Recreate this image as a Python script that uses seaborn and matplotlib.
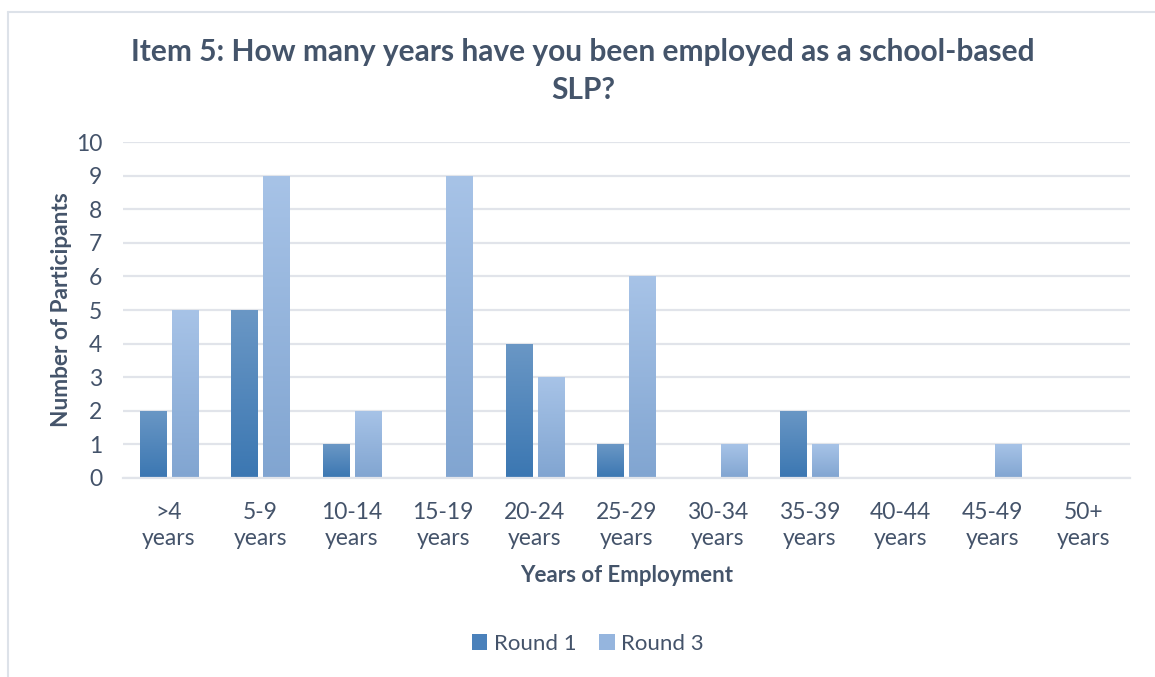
import numpy as np
import pandas as pd
import matplotlib
matplotlib.use("Agg")
import matplotlib.pyplot as plt
from matplotlib.lines import Line2D
from matplotlib.patches import Patch
import seaborn as sns

# Survey responses by years of employment
categories = [">4\nyears", "5-9\nyears", "10-14\nyears", "15-19\nyears", "20-24\nyears",
              "25-29\nyears", "30-34\nyears", "35-39\nyears", "40-44\nyears", "45-49\nyears",
              "50+\nyears"]
round1 = [2, 5, 1, 0, 4, 1, 0, 2, 0, 0, 0]
round3 = [5, 9, 2, 9, 3, 6, 1, 1, 0, 1, 0]
series_names = ["Round 1", "Round 3"]

df = pd.DataFrame({
    "category": categories * 2,
    "count": round1 + round3,
    "series": [series_names[0]] * len(categories) + [series_names[1]] * len(categories),
})

TEXT = "#44546a"
TICK = "#44536a"
GRID = "#e1e4ea"
# (top, bottom) gradient colours per series
grad = {
    "Round 1": ("#6a97c5", "#3b77b2"),
    "Round 3": ("#a7c3e7", "#81a5d1"),
}
flat = {"Round 1": "#4a81bb", "Round 3": "#95b5de"}

sns.set_theme(style="white")
plt.rcParams["font.family"] = ["Lato", "DejaVu Sans"]

fig = plt.figure(figsize=(11.55, 6.77), dpi=100)
ax = fig.add_axes([0.1065, 0.294, 0.8715, 0.496])

sns.barplot(data=df, x="category", y="count", hue="series", order=categories,
            hue_order=series_names, palette=flat, width=0.7, gap=0.18,
            legend=False, ax=ax)

# Replace flat fills with a vertical gradient per bar
ax.set_ylim(0, 10)
n = len(categories)
for i, p in enumerate(ax.patches):
    s = series_names[i // n]
    x0, y0 = p.get_x(), p.get_y()
    w, h = p.get_width(), p.get_height()
    if h <= 0:
        continue
    top, bot = matplotlib.colors.to_rgb(grad[s][0]), matplotlib.colors.to_rgb(grad[s][1])
    t = np.linspace(0, 1, 64)[:, None]
    img = (np.array(top)[None, :] * (1 - t) + np.array(bot)[None, :] * t)[:, None, :]
    im = ax.imshow(img, extent=[x0, x0 + w, y0, y0 + h], aspect="auto",
                   origin="upper", zorder=p.get_zorder(), interpolation="bilinear")
    im.set_clip_path(p)
    p.set_facecolor("none")
    p.set_edgecolor("none")
ax.set_xlim(-0.5, n - 0.5)
ax.set_ylim(0, 10)

ax.set_yticks(range(0, 11))
ax.yaxis.grid(True, color=GRID, linewidth=1.6)
ax.set_axisbelow(True)
for sp in ["top", "right", "left"]:
    ax.spines[sp].set_visible(False)
ax.spines["bottom"].set_color(GRID)
ax.spines["bottom"].set_linewidth(1.6)
ax.tick_params(axis="both", length=0, labelsize=16.5, labelcolor=TICK)
ax.tick_params(axis="x", pad=17)
ax.tick_params(axis="y", pad=15)
for lab in ax.get_xticklabels():
    lab.set_linespacing(1.3)

ax.set_xlabel("Years of Employment", fontsize=16, fontweight="bold", color=TEXT, labelpad=12)
ax.set_ylabel("Number of Participants", fontsize=16.3, fontweight="bold", color=TEXT, labelpad=3)

fig.text(0.505, 0.895, "Item 5: How many years have you been employed as a school-based\nSLP?",
         ha="center", va="center", fontsize=21.5, fontweight="bold", color=TEXT,
         linespacing=1.4)

handles = [Patch(facecolor=flat[s], edgecolor="none", label=s) for s in series_names]
fig.legend(handles=handles, loc="center", bbox_to_anchor=(0.509, 0.049), ncol=2,
           frameon=False, fontsize=16, handlelength=0.7, handleheight=0.7,
           handletextpad=0.3, columnspacing=1.0, labelcolor=TICK)

# Chart-area border (left and top edges)
fig.add_artist(Line2D([7.5 / 1155, 7.5 / 1155], [0, 1 - 11.5 / 677],
                      transform=fig.transFigure, color="#dde2e9", linewidth=1.5))
fig.add_artist(Line2D([7.5 / 1155, 1], [1 - 11.5 / 677, 1 - 11.5 / 677],
                      transform=fig.transFigure, color="#dde2e9", linewidth=1.5))

fig.savefig("out.png", dpi=100, facecolor="white")
